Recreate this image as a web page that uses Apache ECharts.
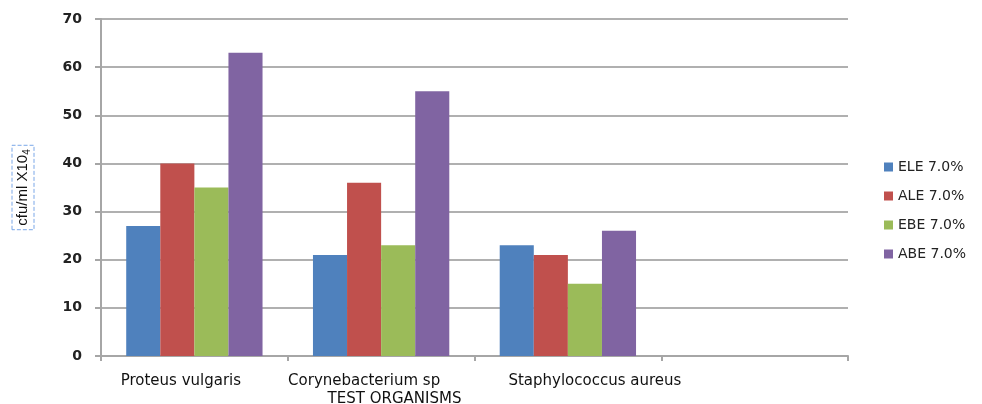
<!DOCTYPE html>
<html>
<head>
<meta charset="utf-8">
<script src="https://cdn.jsdelivr.net/npm/echarts@6/dist/echarts.min.js"></script>
<style>
  html, body { margin: 0; padding: 0; background: #fff; }
  #chart { width: 982px; height: 404px; }
</style>
</head>
<body>
<div id="chart"></div>
<script>
// Organisms tested (the fourth slot is left empty on the axis)
const organisms = ['Proteus vulgaris', 'Corynebacterium sp', 'Staphylococcus aureus', ''];

// Colony counts (cfu/ml x10^4) per extract
const ele = [27, 21, 23, null];
const ale = [40, 36, 21, null];
const ebe = [35, 23, 15, null];
const abe = [63, 55, 26, null];

const seriesNames = ['ELE 7.0%', 'ALE 7.0%', 'EBE 7.0%', 'ABE 7.0%'];
const seriesData = [ele, ale, ebe, abe];
const colors = ['#4F81BD', '#C0504D', '#9BBB59', '#8064A2'];

const chart = echarts.init(document.getElementById('chart'));
const font = "'DejaVu Sans', 'Liberation Sans', sans-serif";
const labelStyle = { fontFamily: font, fontSize: 15, color: '#111' };

chart.setOption({
  animation: false,
  color: colors,
  grid: { left: 101, right: 134, top: 19, bottom: 48, containLabel: false, outerBoundsMode: 'none' },
  legend: {
    orient: 'vertical',
    left: 879,
    top: 155,
    itemWidth: 9,
    itemHeight: 9,
    itemGap: 15,
    icon: 'rect',
    textStyle: { fontFamily: font, fontSize: 14, color: '#222' },
    data: seriesNames
  },
  xAxis: {
    type: 'category',
    data: organisms,
    name: 'TEST ORGANISMS',
    nameLocation: 'middle',
    nameGap: 36,
    nameMoveOverlap: false,
    nameTextStyle: { fontFamily: font, fontSize: 15, color: '#111', padding: [0, 160, 0, 0] },
    axisLine: { lineStyle: { color: '#a6a6a6', width: 2 } },
    axisTick: { show: true, length: 5, lineStyle: { color: '#a6a6a6', width: 2 } },
    axisLabel: {
      margin: 18,
      interval: 0,
      formatter: (value, idx) => value ? '{c' + idx + '|' + value + '}' : '',
      rich: {
        c0: Object.assign({ padding: [0, 27, 0, 0] }, labelStyle),
        c1: Object.assign({ padding: [0, 34, 0, 0] }, labelStyle),
        c2: Object.assign({ padding: [0, 0, 0, 54] }, labelStyle)
      }
    }
  },
  yAxis: {
    type: 'value',
    min: 0,
    max: 70,
    interval: 10,
    name: '{a|cfu/ml X10}{s|4}',
    nameLocation: 'middle',
    nameRotate: 90,
    nameGap: 67,
    nameTextStyle: {
      fontFamily: font,
      color: '#111',
      borderColor: '#7aa7e8',
      borderWidth: 1,
      borderType: 'dashed',
      padding: [2, 4, 2, 4],
      rich: {
        a: { fontFamily: "'Liberation Sans Narrow', 'Liberation Sans', sans-serif", fontSize: 15, color: '#111' },
        s: { fontFamily: "'Liberation Sans Narrow', 'Liberation Sans', sans-serif", fontSize: 10, color: '#111', padding: [8, 0, 0, 0] }
      }
    },
    axisLine: { show: true, lineStyle: { color: '#a6a6a6', width: 2 } },
    axisTick: { show: true, length: 6, lineStyle: { color: '#a6a6a6', width: 2 } },
    axisLabel: { fontFamily: font, fontSize: 14, fontWeight: 'bold', color: '#222', margin: 19 },
    splitLine: { lineStyle: { color: '#b0b0b0', width: 2 } }
  },
  series: seriesNames.map((name, i) => ({
    name: name,
    type: 'bar',
    data: seriesData[i],
    barGap: '0%',
    barCategoryGap: '27%'
  }))
});
</script>
</body>
</html>
